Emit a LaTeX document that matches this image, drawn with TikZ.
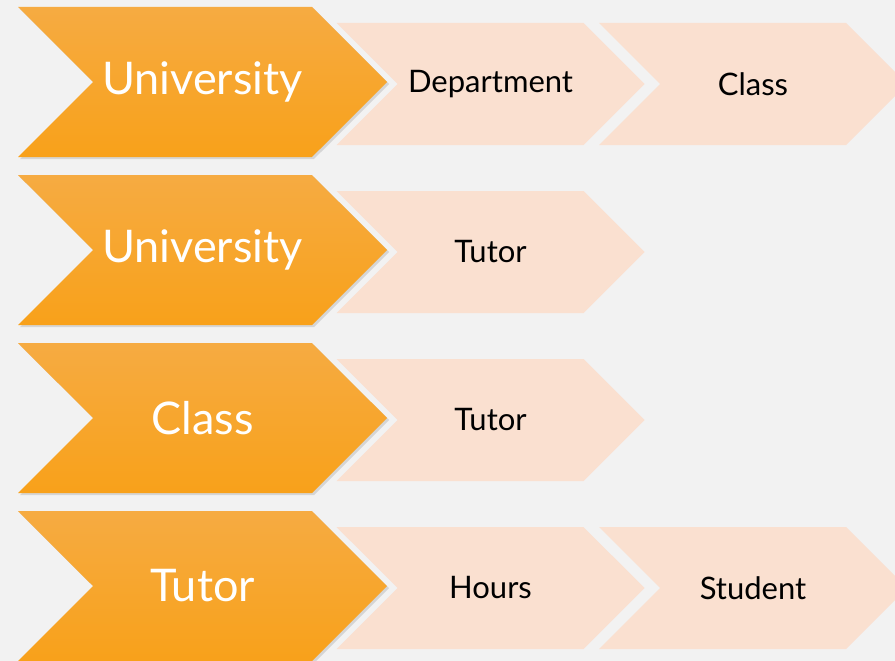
\documentclass[tikz,border=0pt]{standalone}
\usepackage{fontspec}
\setmainfont{Lato}
\usetikzlibrary{shapes.symbols,shadows}

\definecolor{bg}{HTML}{F2F2F2}
\definecolor{peach}{HTML}{FAE0D0}
\definecolor{ortop}{HTML}{F6AB42}
\definecolor{orbot}{HTML}{F8A11A}

\begin{document}
\begin{tikzpicture}[
x=1pt,y=-1pt,
lead/.style={%
    signal,signal to=east,signal from=west,signal pointer angle=90,
    minimum width=369pt,minimum height=150pt,inner sep=0pt,
    top color=ortop,bottom color=orbot,
    text=white,font=\fontsize{45}{54}\selectfont,
    drop shadow={shadow xshift=2pt,shadow yshift=-2pt,opacity=0.25},
},
item/.style={%
    signal,signal to=east,signal from=west,signal pointer angle=90,
    minimum width=308pt,minimum height=122pt,inner sep=0pt,
    fill=peach,
    text=black,font=\fontsize{31}{37}\selectfont,
},
]
\fill[bg] (0,0) rectangle (895,661);
\useasboundingbox (0,0) rectangle (895,661);

% Nodes
\node[item]     at (490.5, 84)    (dept)     {Department};
\node[item]     at (753, 84)      (class1)   {Class};
\node[lead]     at (202.5, 82)    (uni1)     {University};

\node[item]     at (490.5, 252)   (tutor2)   {Tutor};
\node[lead]     at (202.5, 250)   (uni2)     {University};

\node[item]     at (490.5, 420)   (tutor3)   {Tutor};
\node[lead]     at (202.5, 418)   (class3)   {Class};

\node[item]     at (490.5, 588)   (hours)    {Hours};
\node[item]     at (753, 588)     (student)  {Student};
\node[lead]     at (202.5, 586)   (tutor4)   {Tutor};
\end{tikzpicture}
\end{document}
